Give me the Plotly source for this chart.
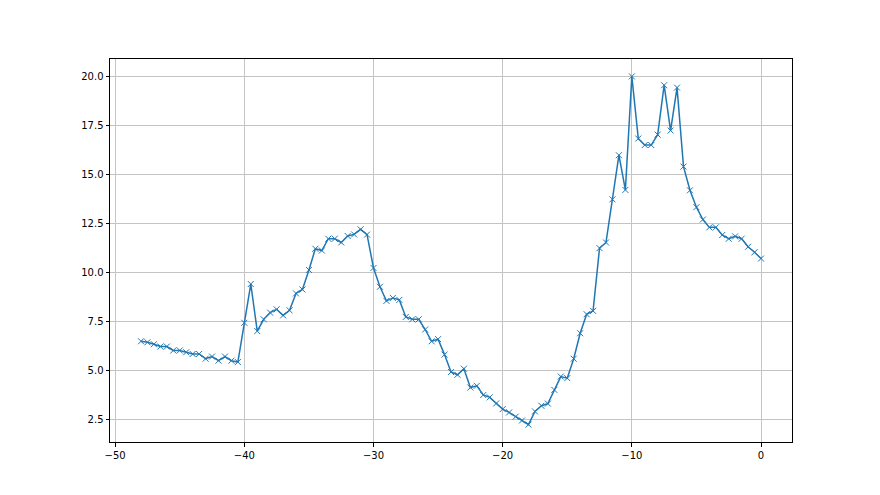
import plotly.graph_objects as go

x_vals = [-48.0, -47.5, -47.0, -46.5, -46.0, -45.5, -45.0, -44.5, -44.0, -43.5,
          -43.0, -42.5, -42.0, -41.5, -41.0, -40.5, -40.0, -39.5, -39.0, -38.5,
          -38.0, -37.5, -37.0, -36.5, -36.0, -35.5, -35.0, -34.5, -34.0, -33.5,
          -33.0, -32.5, -32.0, -31.5, -31.0, -30.5, -30.0, -29.5, -29.0, -28.5,
          -28.0, -27.5, -27.0, -26.5, -26.0, -25.5, -25.0, -24.5, -24.0, -23.5,
          -23.0, -22.5, -22.0, -21.5, -21.0, -20.5, -20.0, -19.5, -19.0, -18.5,
          -18.0, -17.5, -17.0, -16.5, -16.0, -15.5, -15.0, -14.5, -14.0, -13.5,
          -13.0, -12.5, -12.0, -11.5, -11.0, -10.5, -10.0, -9.5, -9.0, -8.5,
          -8.0, -7.5, -7.0, -6.5, -6.0, -5.5, -5.0, -4.5, -4.0, -3.5,
          -3.0, -2.5, -2.0, -1.5, -1.0, -0.5, 0.0]

y_vals = [6.49, 6.44, 6.34, 6.22, 6.22, 6.02, 6.02, 5.93, 5.84, 5.84,
          5.60, 5.71, 5.50, 5.71, 5.50, 5.43, 7.43, 9.41, 7.01, 7.61,
          7.95, 8.12, 7.81, 8.07, 8.93, 9.13, 10.13, 11.21, 11.12, 11.72,
          11.72, 11.53, 11.86, 11.94, 12.20, 11.93, 10.23, 9.27, 8.55, 8.70,
          8.60, 7.73, 7.61, 7.61, 7.09, 6.49, 6.60, 5.81, 4.92, 4.78,
          5.09, 4.13, 4.22, 3.75, 3.63, 3.32, 3.03, 2.86, 2.64, 2.45,
          2.24, 2.91, 3.20, 3.31, 4.01, 4.69, 4.61, 5.60, 6.90, 7.87,
          8.04, 11.24, 11.53, 13.73, 15.98, 14.21, 20.00, 16.83, 16.50, 16.50,
          17.03, 19.55, 17.24, 19.43, 15.40, 14.19, 13.33, 12.70, 12.30, 12.30,
          11.91, 11.72, 11.84, 11.72, 11.31, 11.03, 10.71]

fig = go.Figure()
fig.add_trace(go.Scatter(
    x=x_vals, y=y_vals, mode="lines+markers",
    line=dict(color="#1f77b4", width=1.5),
    marker=dict(symbol="x-thin", size=6, color="#1f77b4",
                line=dict(color="#1f77b4", width=1)),
    showlegend=False,
))

axis_common = dict(
    showline=True, linecolor="black", linewidth=1, mirror=True,
    ticks="outside", ticklen=3.5, tickwidth=1, tickcolor="black",
    showgrid=True, gridcolor="#c4c4c4", gridwidth=0.8,
    zeroline=False,
    tickfont=dict(family="DejaVu Sans", size=10, color="black"),
)

fig.update_xaxes(range=[-50.4, 2.4], tick0=0, dtick=10, **axis_common)
fig.update_yaxes(range=[1.352, 20.888], tick0=0, dtick=2.5, tickformat=".1f", **axis_common)

fig.update_layout(
    width=880, height=495,
    margin=dict(l=102, r=96, t=51, b=61),
    paper_bgcolor="white", plot_bgcolor="white",
)

fig.write_html("out.html")
